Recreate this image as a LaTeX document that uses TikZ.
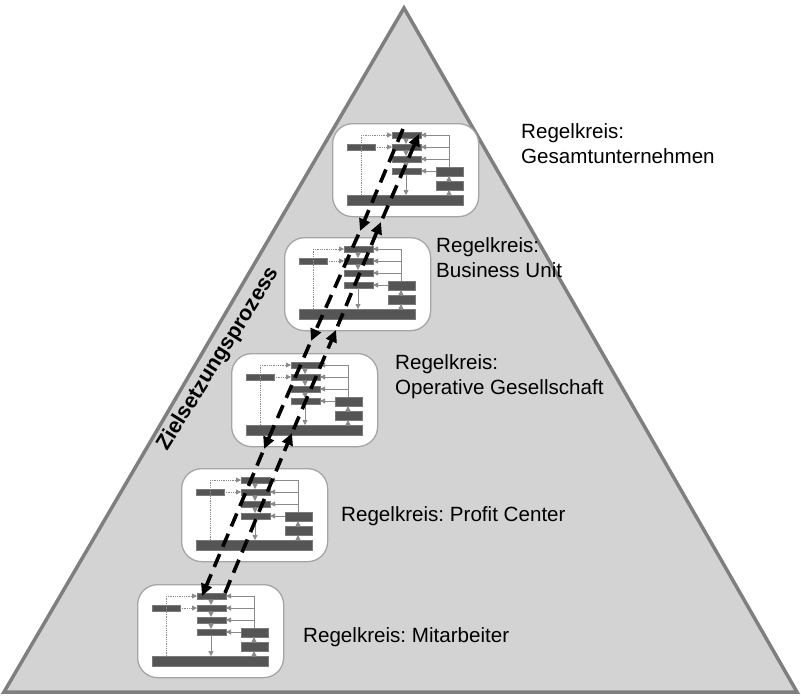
\documentclass[tikz,border=0pt]{standalone}
\usepackage{fontspec}
\setmainfont{Liberation Sans}
\usetikzlibrary{arrows.meta}
\frenchspacing

\definecolor{pyrfill}{HTML}{D3D3D3}
\definecolor{pyrline}{HTML}{7F7F7F}
\definecolor{boxline}{HTML}{A5A5A5}
\definecolor{barfill}{HTML}{555555}
\definecolor{barline}{HTML}{7A7A7A}
\definecolor{wire}{HTML}{8A8A8A}

\tikzset{
  rkbox/.style={draw=boxline, line width=1.3pt, fill=white, rounded corners=20pt,
    minimum width=146pt, minimum height=93pt, anchor=north west, inner sep=0pt},
  bar/.style={fill=barfill, draw=barline, line width=0.6pt},
  wirearrow/.style={draw=wire, line width=0.8pt, -{Triangle[length=5pt,width=5pt]}},
  dotarrow/.style={wirearrow, densely dotted},
  goal/.style={line width=3.6pt, dash pattern=on 14pt off 8pt,
    -{Triangle[length=12pt,width=11pt]}},
  rklabel/.style={font=\fontsize{20.6}{25}\selectfont, align=left, anchor=base west, inner sep=0pt}
}

% small control loop drawn inside a box node
\newcommand{\rkscheme}[1]{%
\begin{scope}[shift={(#1.north west)}]
\draw[bar] (60,9) rectangle (89,15);
\draw[bar] (60,21) rectangle (89,27);
\draw[bar] (60,33) rectangle (89,39);
\draw[bar] (60,45) rectangle (89,51);
\draw[bar] (15,21) rectangle (43,27);
\draw[bar] (104,44) rectangle (131,53);
\draw[bar] (104,58) rectangle (131,67);
\draw[bar] (15,72) rectangle (131,82);
\draw[draw=wire, line width=0.8pt] (117,12) -- (117,44);
\draw[wirearrow] (117,12) -- (89,12);
\draw[wirearrow] (117,24) -- (89,24);
\draw[wirearrow] (117,36) -- (89,36);
\draw[wirearrow] (104,48) -- (89,48);
\draw[wirearrow] (117,72) -- (117,67);
\draw[wirearrow] (117,58) -- (117,53);
\draw[wirearrow] (74,15) -- (74,21);
\draw[wirearrow] (74,27) -- (74,33);
\draw[wirearrow] (74,39) -- (74,45);
\draw[wirearrow] (74,51) -- (74,72);
\draw[draw=wire, line width=0.8pt, densely dotted] (29,72) -- (29,12);
\draw[dotarrow] (29,12) -- (60,12);
\draw[dotarrow] (43,24) -- (60,24);
\end{scope}}

\begin{document}
\begin{tikzpicture}[x=1pt, y=-1pt]
\useasboundingbox (0,0) rectangle (801,697);

\draw[fill=pyrfill, draw=pyrline, line width=3.5pt] (4,692) -- (404,8) -- (797,692) -- cycle;

\node[rkbox] (rk1) at (332,123) {};
\node[rkbox] (rk2) at (284,237) {};
\node[rkbox] (rk3) at (231,353) {};
\node[rkbox] (rk4) at (181,468) {};
\node[rkbox] (rk5) at (137,584) {};

\rkscheme{rk1}
\rkscheme{rk2}
\rkscheme{rk3}
\rkscheme{rk4}
\rkscheme{rk5}

\coordinate (d0) at (403,129);
\coordinate (d1) at (360,231);
\coordinate (d2) at (311,341);
\coordinate (d3) at (264,449);
\coordinate (d4) at (202,596);

\coordinate (u0) at (225,593);
\coordinate (u1) at (292,433);
\coordinate (u2) at (336,330);
\coordinate (u3) at (381,222);
\coordinate (u4) at (419,134);

\draw[goal] (d0) -- (d1);
\draw[goal, shorten <=4pt] (d1) -- (d2);
\draw[goal, shorten <=4pt] (d2) -- (d3);
\draw[goal, shorten <=4pt] (d3) -- (d4);

\draw[goal] (u0) -- (u1);
\draw[goal, shorten <=4pt] (u1) -- (u2);
\draw[goal, shorten <=4pt] (u2) -- (u3);
\draw[goal, shorten <=4pt] (u3) -- (u4);

\node[rklabel] (t1) at (521,163) {Regelkreis:\\Gesamtunternehmen};
\node[rklabel] (t2) at (436,277) {Regelkreis:\\Business Unit};
\node[rklabel] (t3) at (395,394) {Regelkreis:\\Operative Gesellschaft};
\node[rklabel] (t4) at (341,521) {Regelkreis: Profit Center};
\node[rklabel] (t5) at (303,642) {Regelkreis: Mitarbeiter};

\node[font=\bfseries\fontsize{21.5}{25}\selectfont, rotate=58, anchor=base west, inner sep=0pt]
  (zp) at (167,452) {Zielsetzungsprozess};

\end{tikzpicture}
\end{document}
